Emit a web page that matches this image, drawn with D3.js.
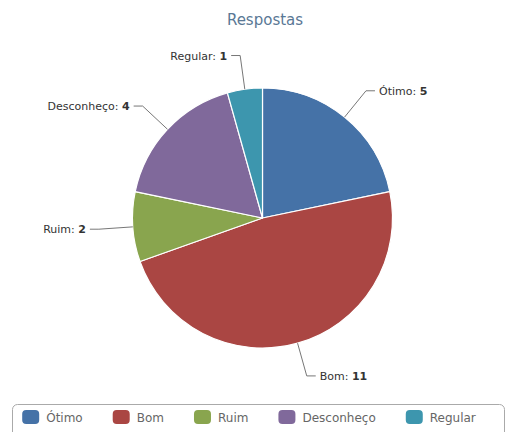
<!DOCTYPE html>
<html><head><meta charset="utf-8">
<script src="https://cdn.jsdelivr.net/npm/d3@7"></script>
<style>body{margin:0;background:#fff}svg{display:block}</style>
</head><body>
<svg id="c" width="510" height="432"></svg>
<script>
const categories = ["Ótimo", "Bom", "Ruim", "Desconheço", "Regular"];
const values = [5, 11, 2, 4, 1];
const colors = ["#4572A7", "#AA4643", "#89A54E", "#80699B", "#3D96AE"];
const title = "Respostas";

const svg = d3.select("#c");
const cx = 262.5, cy = 218, r = 130, dist = 34;
const font = "DejaVu Sans, sans-serif";

svg.append("text").attr("x", 265).attr("y", 25).attr("text-anchor", "middle")
  .attr("font-family", font).attr("font-size", 15).attr("fill", "#5A7895").text(title);

const data = categories.map((c, i) => ({ name: c, value: values[i], color: colors[i] }));
const pie = d3.pie().value(d => d.value).sort(null).startAngle(0).endAngle(2 * Math.PI);
const arcs = pie(data);
const arc = d3.arc().innerRadius(0).outerRadius(r);
const g = svg.append("g").attr("transform", `translate(${cx},${cy})`);
g.selectAll("path").data(arcs).join("path")
  .attr("d", arc).attr("fill", d => d.data.color)
  .attr("stroke", "#fff").attr("stroke-width", 1.2).attr("stroke-linejoin", "round");

// data labels with connectors
const lg = g.append("g");
arcs.forEach(a => {
  const m = (a.startAngle + a.endAngle) / 2;
  const s = Math.sin(m), c = -Math.cos(m);
  const ex = r * s, ey = r * c;
  const ox = (r + dist) * s, oy = (r + dist) * c;
  const right = s >= 0;
  const hx = ox + (right ? 9 : -9);
  lg.append("path").attr("d", `M${ex},${ey}L${ox},${oy}L${hx},${oy}`)
    .attr("fill", "none").attr("stroke", "#777").attr("stroke-width", 1);
  const t = lg.append("text").attr("x", hx + (right ? 4 : -4)).attr("y", oy + 4)
    .attr("text-anchor", right ? "start" : "end")
    .attr("font-family", font).attr("font-size", 11).attr("fill", "#333");
  t.append("tspan").text(a.data.name + ": ");
  t.append("tspan").attr("font-weight", "bold").text(a.data.value);
});

// legend
const leg = svg.append("g");
leg.append("rect").attr("x", 12.5).attr("y", 404.5).attr("width", 492).attr("height", 40)
  .attr("rx", 5).attr("fill", "#fff").attr("stroke", "#aaa");
const items = leg.append("g");
let x = 0;
const gap = 30;
data.forEach(d => {
  const it = items.append("g").attr("transform", `translate(${x},0)`);
  it.append("rect").attr("x", 0).attr("y", 410).attr("width", 17).attr("height", 14)
    .attr("rx", 4).attr("fill", d.color);
  const t = it.append("text").attr("x", 24).attr("y", 422)
    .attr("font-family", font).attr("font-size", 12).attr("fill", "#666").text(d.name);
  x += 24 + t.node().getComputedTextLength() + gap;
});
const total = x - gap;
items.attr("transform", `translate(${249 - total / 2},0)`);
</script>
</body></html>
